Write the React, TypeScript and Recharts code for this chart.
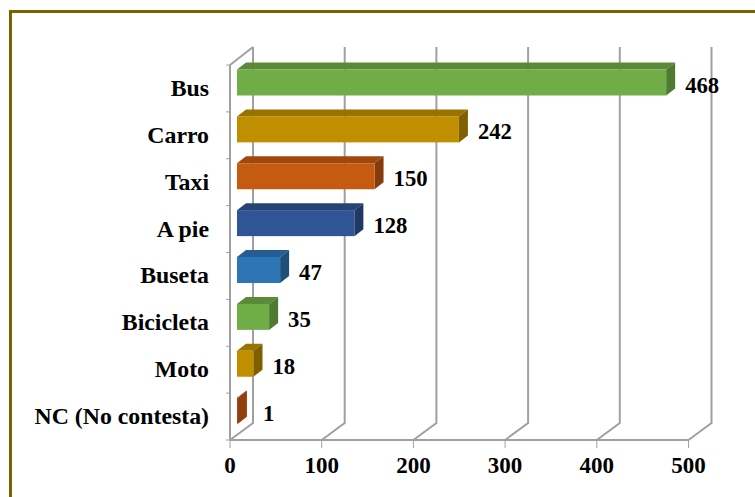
import React from "react";
import { BarChart, Bar, XAxis, YAxis, CartesianGrid, LabelList } from "recharts";

const categories = ["Bus", "Carro", "Taxi", "A pie", "Buseta", "Bicicleta", "Moto", "NC (No contesta)"];
const values = [468, 242, 150, 128, 47, 35, 18, 1];
const frontColors = ["#70AD47", "#BF8F00", "#C55A11", "#2F5597", "#2E75B6", "#70AD47", "#BF8F00", "#933F0D"];
const topColors = ["#5A8A39", "#997300", "#9E480E", "#264478", "#255E92", "#5A8A39", "#997300", "#933F0D"];
const sideColors = ["#4E7A31", "#7F6000", "#843C0C", "#1F3864", "#1F4E79", "#4E7A31", "#7F6000", "#933F0D"];
const xTicks = [0, 100, 200, 300, 400, 500];

const rows = categories.map((name, i) => ({ name, value: values[i] }));

const FONT = "'Liberation Serif', 'Times New Roman', serif";
const GREY = "#A0A0A0";
const DX = 23;
const DY = 17;
const BAND = 46.875;

const Bar3D = (props: any) => {
  const { x, y, width, height, index } = props;
  const l = x + 7;
  const r = l + width;
  const t = y - 5.5;
  const b = t + height;
  const ox = 9;
  const oy = 7;
  return (
    <g>
      <polygon points={`${l},${t} ${l + ox},${t - oy} ${r + ox},${t - oy} ${r},${t}`} fill={topColors[index]} />
      <polygon points={`${r},${t} ${r + ox},${t - oy} ${r + ox},${b - oy} ${r},${b}`} fill={sideColors[index]} />
      <rect x={l} y={t} width={width} height={height} fill={frontColors[index]} />
    </g>
  );
};

const GridLine = (props: any) => {
  const { x1, y1, y2, index } = props;
  const top = Math.min(y1, y2);
  const bottom = Math.max(y1, y2);
  const back = x1 + DX;
  return (
    <g key={`g${x1}`} fill="none" stroke={GREY} strokeWidth={2}>
      <polyline points={`${x1},${bottom} ${back},${bottom - DY} ${back},${top - 18}`} />
      {index === 0 || x1 < 232 ? <line x1={x1} y1={top} x2={back} y2={top - 18} /> : null}
    </g>
  );
};

const CategoryTick = (props: any) => {
  const { x, y, payload, index } = props;
  const ax = x + 21;
  return (
    <g>
      <line x1={ax - 4} x2={ax} y1={y - BAND / 2} y2={y - BAND / 2} stroke={GREY} strokeWidth={1} />
      {index === categories.length - 1 ? (
        <line x1={ax - 4} x2={ax} y1={y + BAND / 2} y2={y + BAND / 2} stroke={GREY} strokeWidth={1} />
      ) : null}
      <text x={x} y={y} dy={7.5} textAnchor="end" fontFamily={FONT} fontWeight="bold" fontSize={23.8} fill="#000">
        {payload.value}
      </text>
    </g>
  );
};

const ValueLabel = (props: any) => {
  const { x, y, width, height, value } = props;
  return (
    <text x={Math.max(x + width + 26, 263)} y={y + height / 2 + 4.5} textAnchor="start" fontFamily={FONT} fontWeight="bold" fontSize={22.7} fill="#000">
      {value}
    </text>
  );
};

export default function App() {
  return (
    <div style={{ position: "absolute", left: 0, top: 0, width: 755, height: 497, background: "#fff", overflow: "hidden" }}>
      <div style={{ position: "absolute", left: 9, top: 10, right: -10, bottom: -10, borderTop: "3px solid #7F6000", borderLeft: "3px solid #7F6000" }} />
      <div style={{ position: "absolute", left: 0, top: 0 }}>
        <BarChart
          width={755}
          height={497}
          data={rows}
          layout="vertical"
          barSize={26}
          margin={{ top: 65, right: 66.5, bottom: 0, left: 0 }}
        >
          <CartesianGrid horizontal={false} vertical={GridLine} />
          <XAxis
            type="number"
            domain={[0, 500]}
            ticks={xTicks}
            height={57}
            interval={0}
            tickSize={8}
            tickMargin={9}
            axisLine={{ stroke: GREY, strokeWidth: 2 }}
            tickLine={{ stroke: GREY, strokeWidth: 1 }}
            tick={{ fontFamily: FONT, fontWeight: "bold", fontSize: 23, fill: "#000" }}
          />
          <YAxis
            type="category"
            dataKey="name"
            width={230}
            interval={0}
            tickSize={0}
            tickMargin={21}
            axisLine={{ stroke: GREY, strokeWidth: 2 }}
            tickLine={false}
            tick={CategoryTick}
          />
          <Bar dataKey="value" isAnimationActive={false} shape={Bar3D}>
            <LabelList dataKey="value" content={ValueLabel} />
          </Bar>
        </BarChart>
      </div>
    </div>
  );
}
